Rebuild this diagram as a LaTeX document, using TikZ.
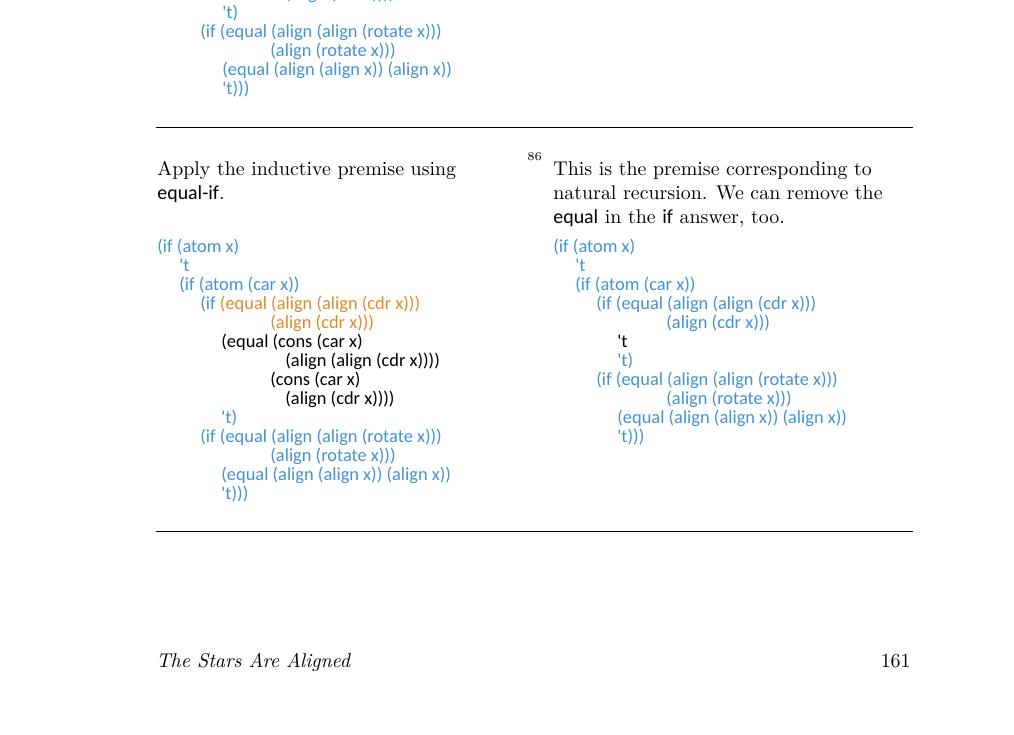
\documentclass[tikz,border=0pt]{standalone}
\usepackage{fontspec}
\usetikzlibrary{positioning}
\newfontfamily\codefont{Carlito}[Ligatures=TeXOff]
\definecolor{myblue}{RGB}{66,146,214}
\definecolor{myorange}{RGB}{222,137,42}
\newcommand{\tk}{{\char39}}
\tikzset{
  code/.style={anchor=base west,inner sep=0pt,font=\codefont\fontsize{9.2}{11}\selectfont},
  prose/.style={anchor=base west,inner sep=0pt,font=\fontsize{9.95}{12}\selectfont},
  rule/.style={line width=0.5pt}
}
\begin{document}
\begin{tikzpicture}[x=0.5pt,y=-0.5pt]
    \useasboundingbox (0,0) rectangle (1014,735);
    \coordinate (RuleTopL) at (156,127);
    \coordinate (RuleTopR) at (913,127);
    \coordinate (RuleBotL) at (156,531);
    \coordinate (RuleBotR) at (913,531);

    % tail of the previous frame, cut off by the page top
    \foreach \x/\t [count=\i from 0] in {%
      285/{(align (cdr x))))},
      222/{\tk t)},
      200/{(if (equal (align (align (rotate x)))},
      270/{(align (rotate x)))},
      222/{(equal (align (align x)) (align x))},
      222/{\tk t)))}}{%
        \node[code,text=myblue] (T\i) at (\x,-1+19*\i) {\t};
    }

    \draw[rule] (RuleTopL) -- (RuleTopR);
    \draw[rule] (RuleBotL) -- (RuleBotR);

    % left column
    \node[prose] (Apply) at (157,175) {Apply the inductive premise using};
    \node[prose] (ApplyB) at (157,199) {{\codefont equal-if}.};
    \foreach \x/\c/\t [count=\i from 0] in {%
      157/myblue/{(if (atom x)},
      179/myblue/{\tk t},
      179/myblue/{(if (atom (car x))},
      200/myblue/{(if \textcolor{myorange}{(equal (align (align (cdr x)))}},
      270/myorange/{(align (cdr x)))},
      221/black/{(equal (cons (car x)},
      285/black/{(align (align (cdr x))))},
      270/black/{(cons (car x)},
      285/black/{(align (cdr x))))},
      221/myblue/{\tk t)},
      200/myblue/{(if (equal (align (align (rotate x)))},
      270/myblue/{(align (rotate x)))},
      221/myblue/{(equal (align (align x)) (align x))},
      221/myblue/{\tk t)))}}{%
        \node[code,text=\c] (L\i) at (\x,252+19*\i) {\t};
    }

    % right column, footnote 86
    \node[anchor=base west,inner sep=0pt,font=\fontsize{6}{7}\selectfont] (Note) at (527,160) {86};
    \node[prose] (Prem) at (553,175) {This is the premise corresponding to};
    \node[prose] (PremB) at (553,199) {natural recursion. We can remove the};
    \node[prose] (PremC) at (553,223) {{\codefont equal} in the {\codefont if} answer, too.};
    \foreach \x/\c/\t [count=\i from 0] in {%
      553/myblue/{(if (atom x)},
      575/myblue/{\tk t},
      575/myblue/{(if (atom (car x))},
      596/myblue/{(if (equal (align (align (cdr x)))},
      666/myblue/{(align (cdr x)))},
      617/black/{\tk t},
      617/myblue/{\tk t)},
      596/myblue/{(if (equal (align (align (rotate x)))},
      666/myblue/{(align (rotate x)))},
      617/myblue/{(equal (align (align x)) (align x))},
      617/myblue/{\tk t)))}}{%
        \node[code,text=\c] (R\i) at (\x,252+19*\i) {\t};
    }

    % running foot
    \node[prose,font=\fontsize{9.95}{12}\selectfont\itshape] (Title) at (156,667) {The Stars Are Aligned};
    \node[prose,anchor=base east] (Page) at (911,667) {161};
\end{tikzpicture}
\end{document}
